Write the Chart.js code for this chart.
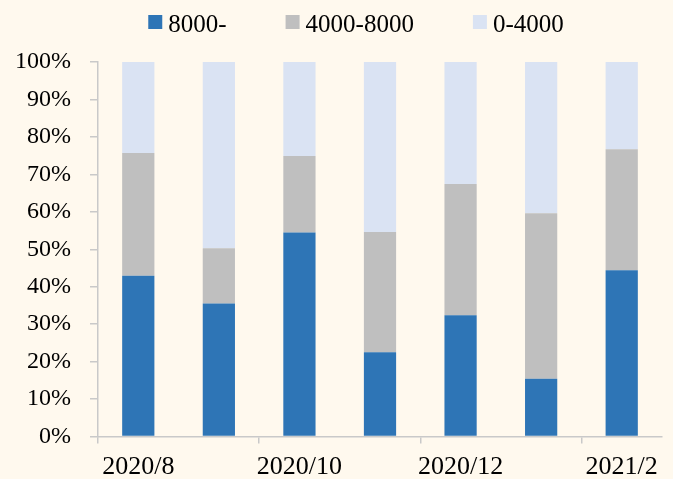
<!DOCTYPE html>
<html>
<head>
<meta charset="utf-8">
<script src="https://cdn.jsdelivr.net/npm/chart.js@4/dist/chart.umd.min.js"></script>
<style>
  html, body { margin: 0; padding: 0; background: #FFF9EE; }
  #wrap { width: 673px; height: 479px; position: relative; }
  canvas { display: block; }
</style>
</head>
<body>
<div id="wrap"><canvas id="c" width="673" height="479"></canvas></div>
<script>
// ---- data ----
const categories = ['2020/8', '2020/9', '2020/10', '2020/11', '2020/12', '2021/1', '2021/2'];
const seriesNames = ['8000-', '4000-8000', '0-4000'];
const s8000plus = [42.9, 35.5, 54.5, 22.5, 32.4, 15.4, 44.4];
const s4000to8000 = [32.8, 14.8, 20.4, 32.1, 35.0, 44.2, 32.3];
const s0to4000 = [24.3, 49.7, 25.1, 45.4, 32.6, 40.4, 23.3];
const yTicks = [0, 10, 20, 30, 40, 50, 60, 70, 80, 90, 100];

const colors = ['#2E75B6', '#BFBFBF', '#DAE3F3'];
const axisColor = '#C9C9C9';
const fontFamily = '"Liberation Serif", "Times New Roman", serif';

const legendPlugin = {
  id: 'customLegend',
  afterDraw(chart) {
    const ctx = chart.ctx;
    ctx.save();
    ctx.font = '25px ' + fontFamily;
    const box = 14, gap = 6, spacing = 59;
    const items = chart.data.datasets.map(ds => ({
      text: ds.label, color: ds.backgroundColor, w: ctx.measureText(ds.label).width
    }));
    const total = items.reduce((s, it) => s + box + gap + it.w, 0) + spacing * (items.length - 1);
    let x = 356 - total / 2;
    items.forEach(it => {
      ctx.fillStyle = it.color;
      ctx.fillRect(x, 15, box, box);
      ctx.fillStyle = '#000';
      ctx.textBaseline = 'alphabetic';
      ctx.textAlign = 'left';
      ctx.fillText(it.text, x + box + gap, 31.5);
      x += box + gap + it.w + spacing;
    });
    ctx.restore();
  }
};

new Chart(document.getElementById('c'), {
  type: 'bar',
  data: {
    labels: categories,
    datasets: [
      { label: seriesNames[0], data: s8000plus, backgroundColor: colors[0] },
      { label: seriesNames[1], data: s4000to8000, backgroundColor: colors[1] },
      { label: seriesNames[2], data: s0to4000, backgroundColor: colors[2] }
    ]
  },
  options: {
    responsive: false,
    animation: false,
    devicePixelRatio: 1,
    layout: { padding: { top: 62, right: 11, left: 0, bottom: 0 } },
    datasets: { bar: { categoryPercentage: 1.0, barPercentage: 0.4, borderWidth: 0 } },
    plugins: { legend: { display: false }, tooltip: { enabled: false } },
    scales: {
      x: {
        stacked: true,
        offset: true,
        afterFit(scale) { scale.height = 42.5; },
        grid: {
          offset: true,
          drawOnChartArea: false,
          drawTicks: true,
          tickLength: 7,
          color: (c) => (c.index % 2 === 0 ? axisColor : 'rgba(0,0,0,0)'),
          lineWidth: 1.5
        },
        border: { display: true, color: axisColor, width: 1.5 },
        ticks: {
          autoSkip: false,
          maxRotation: 0,
          padding: 8,
          color: '#000',
          font: { family: fontFamily, size: 26 },
          callback: (v, i) => (i % 2 === 0 ? categories[i] : '')
        }
      },
      y: {
        stacked: true,
        min: 0,
        max: 100,
        afterFit(scale) { scale.width = 98; },
        afterBuildTicks(scale) { scale.ticks = yTicks.map(v => ({ value: v })); },
        grid: {
          drawOnChartArea: false,
          drawTicks: true,
          tickLength: 8,
          color: axisColor,
          lineWidth: 1.5
        },
        border: { display: true, color: axisColor, width: 1.5 },
        ticks: {
          padding: 19,
          color: '#000',
          font: { family: fontFamily, size: 24 },
          callback: (v) => v + '%'
        }
      }
    }
  },
  plugins: [legendPlugin]
});
</script>
</body>
</html>
